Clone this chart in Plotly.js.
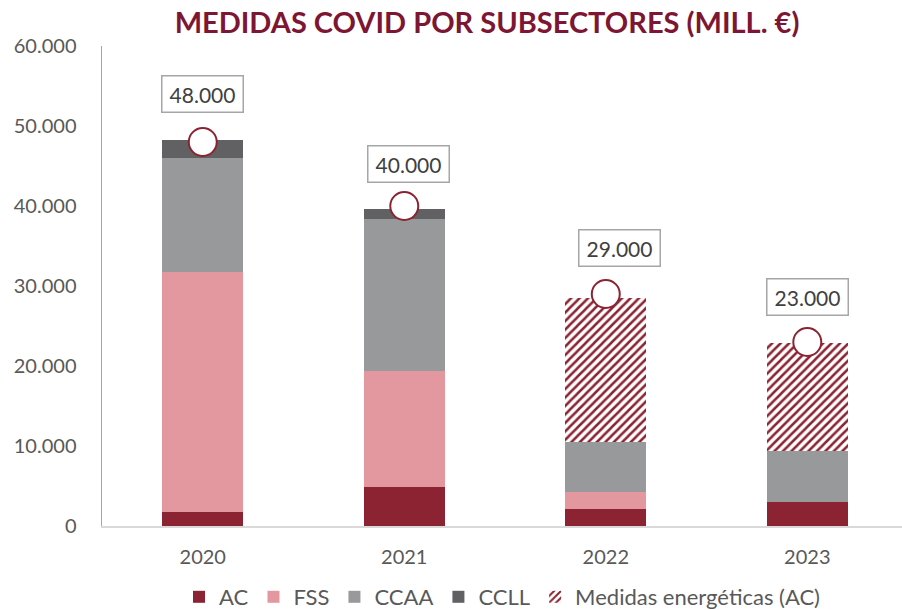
<!DOCTYPE html>
<html>
<head>
<meta charset="utf-8">
<script src="https://cdn.plot.ly/plotly-3.0.1.min.js"></script>
<style>html,body{margin:0;padding:0;background:#fff;}#chart{width:902px;height:610px;}</style>
</head>
<body>
<div id="chart"></div>
<script>
const years = ["2020", "2021", "2022", "2023"];
const ac = [1800, 4900, 2100, 3000];
const fss = [29900, 14500, 2100, 0];
const ccaa = [14250, 19000, 6300, 6350];
const ccll = [2250, 1200, 0, 0];
const medidas = [0, 0, 18050, 13550];
const totals = [48000, 40000, 29000, 23000];
const seriesNames = ["AC", "FSS", "CCAA", "CCLL", "Medidas energéticas (AC)"];

const fontFam = "Lato, 'Open Sans', sans-serif";
const red = "#8B2332";

function bar(name, y, color, pattern) {
  const t = {type: "bar", name: name, x: years, y: y,
    marker: {color: color, line: {width: 0}}, hoverinfo: "y+name"};
  if (pattern) t.marker.pattern = pattern;
  return t;
}

const traces = [
  bar(seriesNames[0], ac, red),
  bar(seriesNames[1], fss, "#E3979F"),
  bar(seriesNames[2], ccaa, "#98999B"),
  bar(seriesNames[3], ccll, "#616163"),
  bar(seriesNames[4], medidas, "#ffffff", {shape: "/", fgcolor: red, bgcolor: "#ffffff", size: 6, solidity: 0.42, fillmode: "replace"}),
  {type: "scatter", mode: "markers", x: years, y: totals, showlegend: false,
   marker: {color: "#ffffff", size: 28, line: {color: red, width: 2}}, hoverinfo: "y"}
];

function fmt(v) {
  return String(Math.round(v)).replace(/\B(?=(\d{3})+(?!\d))/g, ".");
}
const xshifts = [0, 4, 14, 0];
const yshifts = [48, 42, 46, 45];
const annotations = years.map((yr, i) => ({
  x: i, y: totals[i], xref: "x", yref: "y",
  text: fmt(totals[i]), showarrow: false,
  xanchor: "center", yanchor: "middle",
  xshift: xshifts[i], yshift: yshifts[i],
  font: {family: fontFam, size: 21, color: "#404040"},
  bordercolor: "#a6a6a6", borderwidth: 1.5, borderpad: 3,
  bgcolor: "#ffffff", width: 74, height: 29
}));

const layout = {
  width: 902, height: 610,
  margin: {l: 102, r: 0, t: 46, b: 84},
  paper_bgcolor: "#ffffff", plot_bgcolor: "#ffffff",
  barmode: "stack", bargap: 0.6,
  separators: ",.",
  font: {family: fontFam, color: "#595959", size: 20},
  title: {text: "MEDIDAS COVID POR SUBSECTORES (MILL. €)", x: 0.5, xref: "paper", xanchor: "center",
          y: 0.963, yref: "container", yanchor: "middle",
          font: {family: fontFam, size: 29, color: "#7D1632", weight: "bold"}},
  xaxis: {type: "category", range: [-0.5, 3.47], showgrid: false, zeroline: false,
          showline: true, linecolor: "#d9d9d9", linewidth: 1.5, ticks: "", ticklabelstandoff: 12,
          tickfont: {size: 20, color: "#595959"}, fixedrange: true},
  yaxis: {range: [0, 60000], dtick: 10000, tickformat: ",d", showgrid: false, zeroline: false,
          showline: true, linecolor: "#a6a6a6", linewidth: 1.5, ticks: "", ticklabelstandoff: 20,
          tickfont: {size: 20, color: "#595959"}, fixedrange: true},
  legend: {orientation: "h", x: 0.5, xref: "paper", xanchor: "center", y: 0.02, yref: "container",
           yanchor: "middle", traceorder: "normal", font: {size: 22, color: "#595959"},
           itemwidth: 30, tracegroupgap: 0},
  annotations: annotations,
  showlegend: true
};
layout.title.x = (487 - 102) / 800;
layout.legend.y = 1 - 597 / 610;

Plotly.newPlot("chart", traces, layout, {displayModeBar: false, staticPlot: true});
</script>
</body>
</html>
